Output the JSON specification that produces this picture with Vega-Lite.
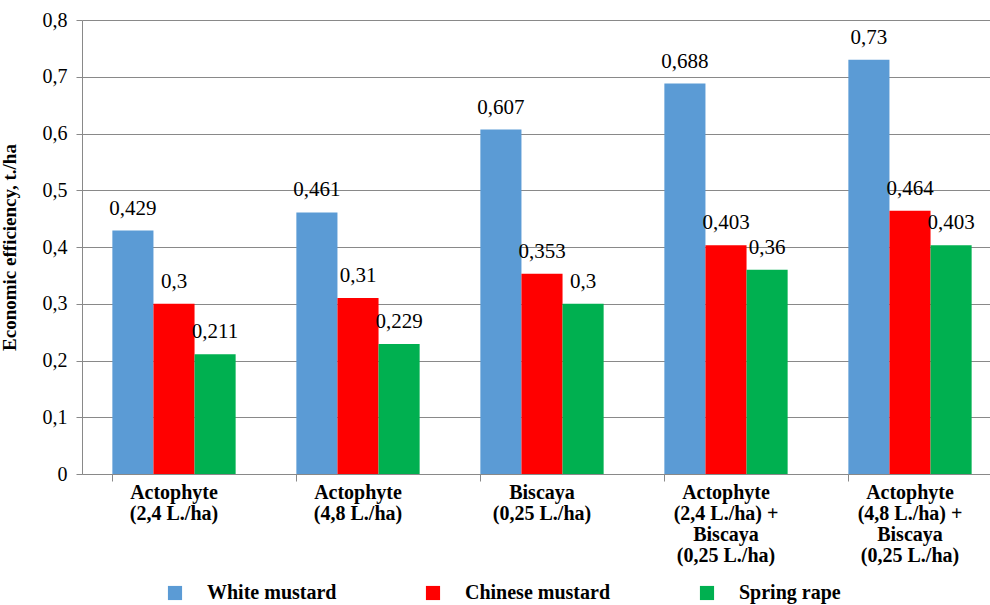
{
  "$schema": "https://vega.github.io/schema/vega-lite/v6.json",
  "width": 920,
  "height": 454,
  "autosize": {"type": "none"},
  "padding": {"left": 82, "top": 20, "right": 0, "bottom": 131},
  "config": {
    "font": "Liberation Serif",
    "view": {"stroke": null},
    "locale": {"number": {"decimal": ",", "thousands": " ", "grouping": [3], "currency": ["", ""]}}
  },
  "data": {
    "values": [
      {"treatment": "Actophyte|(2,4 L./ha)", "crop": "White mustard", "value": 0.429},
      {"treatment": "Actophyte|(2,4 L./ha)", "crop": "Chinese mustard", "value": 0.3},
      {"treatment": "Actophyte|(2,4 L./ha)", "crop": "Spring rape", "value": 0.211},
      {"treatment": "Actophyte|(4,8 L./ha)", "crop": "White mustard", "value": 0.461},
      {"treatment": "Actophyte|(4,8 L./ha)", "crop": "Chinese mustard", "value": 0.31},
      {"treatment": "Actophyte|(4,8 L./ha)", "crop": "Spring rape", "value": 0.229},
      {"treatment": "Biscaya|(0,25 L./ha)", "crop": "White mustard", "value": 0.607},
      {"treatment": "Biscaya|(0,25 L./ha)", "crop": "Chinese mustard", "value": 0.353},
      {"treatment": "Biscaya|(0,25 L./ha)", "crop": "Spring rape", "value": 0.3},
      {"treatment": "Actophyte|(2,4 L./ha) +|Biscaya|(0,25 L./ha)", "crop": "White mustard", "value": 0.688},
      {"treatment": "Actophyte|(2,4 L./ha) +|Biscaya|(0,25 L./ha)", "crop": "Chinese mustard", "value": 0.403},
      {"treatment": "Actophyte|(2,4 L./ha) +|Biscaya|(0,25 L./ha)", "crop": "Spring rape", "value": 0.36},
      {"treatment": "Actophyte|(4,8 L./ha) +|Biscaya|(0,25 L./ha)", "crop": "White mustard", "value": 0.73},
      {"treatment": "Actophyte|(4,8 L./ha) +|Biscaya|(0,25 L./ha)", "crop": "Chinese mustard", "value": 0.464},
      {"treatment": "Actophyte|(4,8 L./ha) +|Biscaya|(0,25 L./ha)", "crop": "Spring rape", "value": 0.403}
    ]
  },
  "encoding": {
    "x": {
      "field": "treatment",
      "type": "nominal",
      "sort": null,
      "scale": {"paddingInner": 0.33, "paddingOuter": 0.165},
      "axis": {
        "title": null,
        "labelAngle": 0,
        "labelExpr": "split(datum.label, '|')",
        "labelFont": "Liberation Serif",
        "labelFontSize": 20,
        "labelFontWeight": "bold",
        "labelColor": "#000000",
        "labelLineHeight": 21,
        "labelBaseline": "top",
        "labelPadding": 1,
        "labelLimit": 300,
        "bandPosition": 0,
        "tickSize": 7,
        "tickColor": "#898989",
        "domainColor": "#898989",
        "grid": false
      }
    },
    "xOffset": {"field": "crop", "type": "nominal", "sort": null, "scale": {"paddingInner": 0, "paddingOuter": 0}},
    "y": {
      "field": "value",
      "type": "quantitative",
      "scale": {"domain": [0, 0.8], "nice": false},
      "axis": {
        "title": "Economic efficiency, t./ha",
        "titleFont": "Liberation Serif",
        "titleFontSize": 19,
        "titleFontWeight": "bold",
        "titleColor": "#000000",
        "titleX": -63,
        "values": [0, 0.1, 0.2, 0.3, 0.4, 0.5, 0.6, 0.7, 0.8],
        "format": ".1~f",
        "labelFont": "Liberation Serif",
        "labelFontSize": 20,
        "labelColor": "#000000",
        "labelPadding": 9,
        "tickSize": 6,
        "tickColor": "#898989",
        "domainColor": "#898989",
        "gridColor": "#898989",
        "gridWidth": 1
      }
    }
  },
  "layer": [
    {
      "mark": {"type": "bar"},
      "encoding": {
        "color": {
          "field": "crop",
          "type": "nominal",
          "sort": null,
          "scale": {"domain": ["White mustard", "Chinese mustard", "Spring rape"], "range": ["#5B9BD5", "#FF0000", "#00B050"]},
          "legend": {
            "title": null,
            "orient": "none",
            "legendX": 83,
            "legendY": 563,
            "direction": "horizontal",
            "symbolType": "square",
            "symbolSize": 200,
            "symbolStrokeWidth": 0,
            "symbolOpacity": 1,
            "labelFont": "Liberation Serif",
            "labelFontSize": 20,
            "labelFontWeight": "bold",
            "labelColor": "#000000",
            "labelOffset": 22,
            "labelLimit": 300,
            "columnPadding": 86
          }
        }
      }
    },
    {
      "mark": {"type": "text", "baseline": "middle", "align": "center", "dy": -22, "fontSize": 21, "font": "Liberation Serif", "color": "#000000"},
      "encoding": {
        "text": {"field": "value", "type": "quantitative", "format": ".3~f"}
      }
    }
  ]
}
